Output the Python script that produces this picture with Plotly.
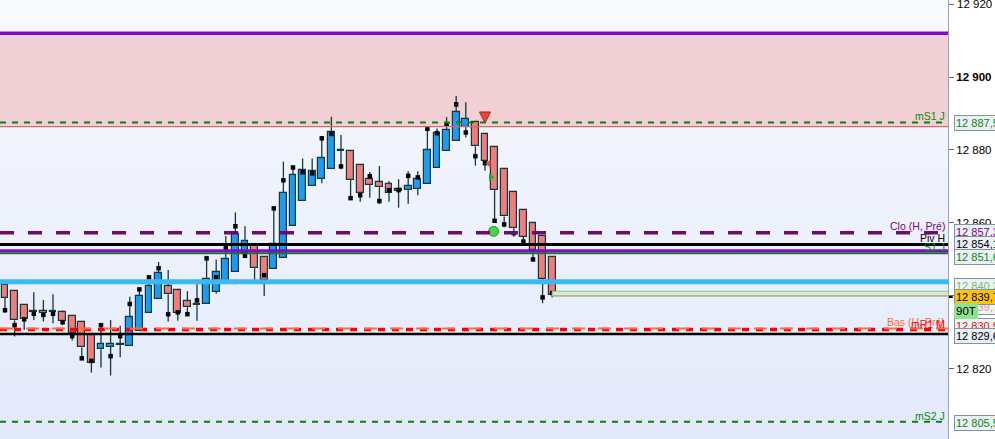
import plotly.graph_objects as go

# ---------------- data ----------------
opens = [12843.0, 12841.3, 12837.4, 12835.8, 12835.9, 12835.7, 12835.5, 12834.5, 12832.9, 12829.2,
         12825.4, 12826.1, 12826.6, 12826.4, 12830.5, 12835.3, 12839.1, 12842.6, 12841.5, 12838.5,
         12837.8, 12837.7, 12841.2, 12844.1, 12846.6, 12851.7, 12853.7, 12850.6, 12847.3, 12850.5,
         12859.3, 12866.1, 12870.2, 12872.1, 12874.9, 12879.9, 12879.6, 12875.8, 12872.0, 12871.1,
         12870.6, 12869.3, 12869.0, 12869.4, 12870.8, 12875.2, 12879.8, 12882.5, 12886.3, 12887.6,
         12884.3, 12880.7, 12874.7, 12868.4, 12863.5, 12859.9, 12856.4, 12850.6]
highs = [12843.6, 12841.3, 12837.4, 12841.0, 12838.9, 12840.5, 12836.0, 12834.8, 12833.0, 12829.3,
         12832.0, 12833.4, 12831.8, 12839.8, 12841.8, 12845.1, 12849.3, 12847.1, 12841.6, 12841.3,
         12843.3, 12851.0, 12850.0, 12856.4, 12862.9, 12859.1, 12853.8, 12850.7, 12864.0, 12876.8,
         12875.3, 12877.7, 12877.7, 12883.6, 12889.1, 12884.1, 12879.7, 12875.9, 12874.0, 12875.6,
         12871.5, 12872.0, 12874.2, 12874.2, 12886.6, 12885.9, 12889.0, 12894.8, 12893.1, 12887.7,
         12884.4, 12880.8, 12874.8, 12868.5, 12863.6, 12860.0, 12856.5, 12850.7]
lows = [12835.4, 12828.9, 12830.7, 12833.4, 12833.0, 12832.5, 12832.0, 12827.8, 12822.9, 12819.0,
        12820.4, 12818.2, 12823.2, 12826.4, 12830.5, 12835.3, 12839.1, 12833.0, 12833.2, 12835.0,
        12833.2, 12837.7, 12840.6, 12844.1, 12846.6, 12850.6, 12844.4, 12840.0, 12847.3, 12850.5,
        12859.3, 12866.1, 12870.2, 12870.9, 12874.9, 12874.7, 12866.8, 12865.8, 12866.9, 12865.2,
        12865.8, 12864.2, 12865.3, 12867.6, 12870.8, 12875.2, 12879.8, 12882.5, 12883.4, 12875.7,
        12874.3, 12860.6, 12858.8, 12856.2, 12854.2, 12850.0, 12838.0, 12839.6]
closes = [12839.5, 12833.3, 12833.6, 12835.6, 12835.2, 12835.6, 12833.2, 12829.8, 12825.9, 12821.7,
          12826.8, 12826.8, 12826.8, 12834.1, 12840.0, 12842.6, 12846.2, 12840.5, 12835.3, 12836.9,
          12837.6, 12844.6, 12846.5, 12850.0, 12856.9, 12855.0, 12847.6, 12844.4, 12854.2, 12868.2,
          12873.1, 12874.4, 12874.2, 12877.7, 12884.8, 12879.7, 12871.9, 12868.1, 12870.4, 12869.8,
          12868.2, 12868.8, 12870.0, 12872.0, 12879.9, 12884.6, 12885.4, 12890.3, 12888.4, 12881.0,
          12877.1, 12869.0, 12861.8, 12858.6, 12856.2, 12852.6, 12844.7, 12840.2]
dots = [12836.1, 12832.0, 12833.6, 12835.1, 12834.8, 12835.1, 12832.8, 12829.0, 12822.9, 12822.2,
        12832.0, 12823.5, 12829.0, 12837.8, 12841.8, 12845.1, 12847.6, 12835.0, 12835.5, 12835.0,
        12838.8, 12850.3, 12845.1, 12853.2, 12859.1, 12851.0, None, 12845.7, 12864.0, 12871.7,
        12875.2, 12873.9, 12873.6, 12883.2, 12884.4, 12875.5, 12866.8, 12867.6, 12872.8, 12866.0,
        12869.0, 12869.0, 12872.9, 12872.5, 12885.8, 12884.6, 12887.0, 12892.5, 12884.8, 12878.3,
        12876.4, 12860.6, 12859.6, 12857.2, 12854.9, 12850.0, 12839.6, 12840.8]
idx = list(range(len(opens)))

# horizontal levels
zone_top = 12912.0
zone_bottom = 12886.4
ms1_j = 12887.5
clo_h_pre = 12857.3
piv_h = 12854.1
purple_level = 12852.3
s1_j = 12851.6
blue_level = 12843.9
last_price = 12839.7
last_box_top = 12841.3
bas_h_pre = 12830.8
mr1_m = 12831.1
black_low = 12829.6
ms2_j = 12805.5

# signals (x index, value)
sig_arrow = (50, 12887.4)
sig_tri_left = (50.4, 12876.3)
sig_tri_right = (50.6, 12872.5)
sig_clover = (50.9, 12857.7)

tick_vals = [12820, 12840, 12860, 12880, 12900, 12920]
tick_text = ["12 820", "12 840", "12 860", "12 880", "<b>12 900</b>", ""]
top_tick_label = "12 920"

# ---------------- figure ----------------
RED = "#F27C7A"
BLUE = "#1E9AF0"
EDGE = "#12393B"

fig = go.Figure()

# wicks
wx, wy = [], []
for i in idx:
    top = max(opens[i], closes[i])
    bot = min(opens[i], closes[i])
    wx += [i, i, None, i, i, None]
    wy += [highs[i], top, None, bot, lows[i], None]
fig.add_trace(go.Scatter(x=wx, y=wy, mode="lines", line=dict(color=EDGE, width=1.3),
                         hoverinfo="skip", showlegend=False))

# bodies
base = [min(o, c) for o, c in zip(opens, closes)]
height = [max(abs(c - o), 0.25) for o, c in zip(opens, closes)]
colors = [BLUE if c > o else RED for o, c in zip(opens, closes)]
fig.add_trace(go.Bar(x=idx, y=height, base=base, width=0.7,
                     marker=dict(color=colors, line=dict(color=EDGE, width=1.2)),
                     showlegend=False, hoverinfo="skip"))

# black dots
fig.add_trace(go.Scatter(x=idx, y=dots, mode="markers",
                         marker=dict(symbol="square", size=4.5, color="#050505"),
                         showlegend=False, hoverinfo="skip"))

# signals
fig.add_trace(go.Scatter(x=[sig_arrow[0]], y=[sig_arrow[1]], mode="markers",
                         marker=dict(symbol="arrow-down", size=11, color="#E8483F",
                                     line=dict(color="#B02020", width=1)),
                         showlegend=False, hoverinfo="skip"))
fig.add_trace(go.Scatter(x=[sig_tri_left[0]], y=[sig_tri_left[1]], mode="markers",
                         marker=dict(symbol="triangle-left", size=7, color="#E8483F"),
                         showlegend=False, hoverinfo="skip"))
fig.add_trace(go.Scatter(x=[sig_tri_right[0]], y=[sig_tri_right[1]], mode="markers",
                         marker=dict(symbol="triangle-right", size=7, color="#22B422"),
                         showlegend=False, hoverinfo="skip"))
fig.add_trace(go.Scatter(x=[sig_clover[0]], y=[sig_clover[1]], mode="markers",
                         marker=dict(symbol="circle", size=10, color="#4AD04A",
                                     line=dict(color="#1E9A1E", width=1)),
                         showlegend=False, hoverinfo="skip"))

shapes = []
# background gradient
n = 44
top_c = (249, 250, 254)
bot_c = (226, 233, 251)
for k in range(n):
    t = k / (n - 1)
    c = tuple(round(top_c[j] + (bot_c[j] - top_c[j]) * t) for j in range(3))
    shapes.append(dict(type="rect", xref="paper", yref="paper", x0=0, x1=1,
                       y0=1 - (k + 1) / n, y1=1 - k / n, layer="below",
                       fillcolor="rgb(%d,%d,%d)" % c, line=dict(width=0)))
# pink zone
shapes.append(dict(type="rect", xref="paper", yref="y", x0=0, x1=1, y0=zone_bottom, y1=zone_top,
                   layer="below", fillcolor="#F0D0D4", line=dict(width=0)))
shapes.append(dict(type="line", xref="paper", yref="y", x0=0, x1=1, y0=zone_bottom, y1=zone_bottom,
                   line=dict(color="#D46A6A", width=1.2)))


def hline(y, color, width, dash="solid"):
    shapes.append(dict(type="line", xref="paper", yref="y", x0=0, x1=1, y0=y, y1=y,
                       line=dict(color=color, width=width, dash=dash)))


hline(zone_top, "#7A0FC6", 3.5)
hline(ms1_j, "#0A820A", 2, "6px,6px")
hline(clo_h_pre, "#6E0A6E", 3.5, "14px,14px")
hline(piv_h, "#000000", 3)
hline(purple_level, "#7A0FC6", 3.5)
hline(s1_j, "#0A820A", 1.5)
hline(blue_level, "#3CB8F4", 5)
hline(bas_h_pre, "#FF0000", 3.5, "7px,7px")
hline(mr1_m, "#FF6A3D", 2, "13px,13px")
hline(black_low, "#000000", 2.5)
hline(ms2_j, "#0A820A", 2, "6px,6px")

# last-price box
shapes.append(dict(type="rect", xref="x", yref="y", x0=idx[-1], x1=98.5, y0=last_price + 0.3,
                   y1=last_box_top, fillcolor="#CDEFCD", line=dict(color="#86CC86", width=1)))
shapes.append(dict(type="line", xref="x", yref="y", x0=idx[-1], x1=98.5, y0=last_price + 0.3,
                   y1=last_price + 0.3, line=dict(color="#E08A8A", width=1)))
shapes.append(dict(type="line", xref="paper", yref="y", x0=1.001, x1=1.005, y0=last_price,
                   y1=last_price, line=dict(color="#000000", width=2)))

fig.update_layout(shapes=shapes)

FONT = "Liberation Sans"
ann = []
# top tick label (kept as text at the 12 920 tick)
ann.append(dict(x=1, xref="paper", y=tick_vals[-1], yref="y", text=top_tick_label,
                showarrow=False, xanchor="left", yanchor="middle", xshift=7,
                font=dict(family=FONT, size=11.5, color="#000000")))
# in-plot labels
for txt, y, col in [("mS1 J", 12889.3, "#0A8A0A"), ("Clo (H, Pré)", 12859.3, "#800080"),
                    ("Piv H", 12856.0, "#000000"), ("S1 J", 12853.4, "#0A8A0A"),
                    ("Bas (H, Pré)", 12832.8, "#FF6A3D"), ("mR1 M", 12832.3, "#E81010"),
                    ("mS2 J", 12807.0, "#0A8A0A")]:
    ann.append(dict(x=1, xref="paper", y=y, yref="y", text=txt, showarrow=False,
                    xanchor="right", yanchor="middle", xshift=-1,
                    font=dict(family=FONT, size=10.5, color=col)))

# axis price labels
for txt, y, col, bg in [("12 840,2", 12842.6, "#6CC06C", "#EEF3F6"),
                        ("12 839,7", 12837.0, "#E89090", "#EEF3F6"),
                        ("12 887,5", 12887.4, "#0A8A0A", "#EAF0F5"),
                        ("12 857,3", 12857.5, "#800080", "#EAF0F5"),
                        ("12 854,1", 12854.3, "#000000", "#EAF0F5"),
                        ("12 851,6", 12850.8, "#0A8A0A", "#EAF0F5"),
                        ("12 839,7", 12839.8, "#000000", "#FFC30A"),
                        ("12 830,9", 12831.9, "#E81010", "#EEF3F6"),
                        ("12 829,6", 12829.1, "#000000", "#EAF0F5"),
                        ("12 805,5", 12805.2, "#0A8A0A", "#EAF0F5")]:
    ann.append(dict(x=1, xref="paper", y=y, yref="y", text=txt, showarrow=False,
                    xanchor="left", yanchor="middle", xshift=6, align="left",
                    font=dict(family=FONT, size=11, color=col),
                    bgcolor=bg, bordercolor="#8192A4", borderwidth=1, borderpad=1))
ann.append(dict(x=1, xref="paper", y=12836.0, yref="y", text="90T", showarrow=False,
                xanchor="left", yanchor="middle", xshift=6,
                font=dict(family=FONT, size=11.5, color="#000000"),
                bgcolor="#8FE08F", bordercolor="#8FE08F", borderwidth=1, borderpad=1))

fig.update_layout(
    width=995, height=439,
    margin=dict(l=0, r=47, t=0, b=0),
    paper_bgcolor="#FFFFFF", plot_bgcolor="#F4F6FC",
    bargap=0, showlegend=False, annotations=ann,
    xaxis=dict(range=[-0.52, 98.23], visible=False, fixedrange=True),
    yaxis=dict(range=[12800.8, 12921.1], side="right", showgrid=False, zeroline=False,
               showline=True, linecolor="#98A4B0", linewidth=1,
               ticks="outside", ticklen=5, tickcolor="#606870",
               tickvals=tick_vals, ticktext=tick_text,
               tickfont=dict(family=FONT, size=11.5, color="#000000")),
)

fig.write_html("out.html", config={"displayModeBar": False},
               post_script="document.body.style.margin='0';document.body.style.overflow='hidden';")
